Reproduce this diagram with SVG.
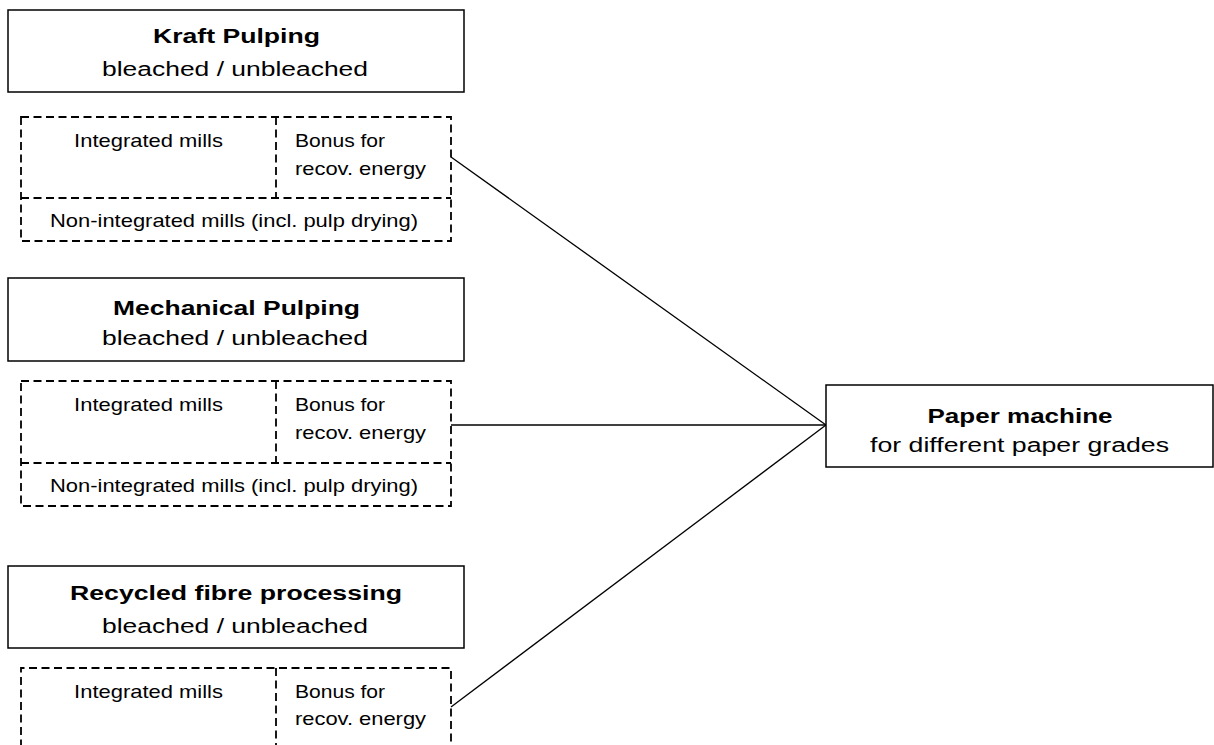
<svg xmlns="http://www.w3.org/2000/svg" width="1214" height="745" viewBox="0 0 1214 745">
<style>
  .solid{fill:#fff;stroke:#000;stroke-width:1.5}
  .dash{fill:none;stroke:#000;stroke-width:1.8;stroke-dasharray:8 4.5}
  .t{font-family:"Liberation Sans",Arial,sans-serif;fill:#000}
  .title{font-size:21px;font-weight:bold;text-anchor:middle}
  .sub{font-size:21px;text-anchor:middle}
  .sm{font-size:18px}
  .c{text-anchor:middle}
  .conn{stroke:#000;stroke-width:1.3;fill:none}
</style>
<rect width="1214" height="745" fill="#fff"/>
<g id="connectors">
  <line class="conn" x1="451" y1="157" x2="826" y2="425"/>
  <line class="conn" x1="451" y1="425" x2="826" y2="425"/>
  <line class="conn" x1="451" y1="707" x2="826" y2="425"/>
</g>
<g id="kraft">
  <rect class="solid" x="8" y="10" width="456" height="82"/>
  <text class="t title" transform="translate(236.5,43) scale(1.24,1)" textLength="134.7" lengthAdjust="spacingAndGlyphs">Kraft Pulping</text>
  <text class="t sub" transform="translate(235,75.5) scale(1.24,1)" textLength="214.5" lengthAdjust="spacingAndGlyphs">bleached / unbleached</text>
</g>
<g id="kraft-mills">
  <rect class="dash" x="21" y="117" width="430" height="124"/>
  <line class="dash" x1="276" y1="117" x2="276" y2="198"/>
  <line class="dash" x1="21" y1="198" x2="451" y2="198"/>
  <text class="t sm c" transform="translate(148.5,147) scale(1.22,1)" textLength="122" lengthAdjust="spacingAndGlyphs">Integrated mills</text>
  <text class="t sm" transform="translate(295,147) scale(1.22,1)" textLength="73.8" lengthAdjust="spacingAndGlyphs">Bonus for</text>
  <text class="t sm" transform="translate(295,174.5) scale(1.22,1)" textLength="107.4" lengthAdjust="spacingAndGlyphs">recov. energy</text>
  <text class="t sm c" transform="translate(234,227) scale(1.22,1)" textLength="301.6" lengthAdjust="spacingAndGlyphs">Non-integrated mills (incl. pulp drying)</text>
</g>
<g id="mechanical">
  <rect class="solid" x="8" y="278" width="456" height="83"/>
  <text class="t title" transform="translate(236.5,315) scale(1.24,1)" textLength="199.2" lengthAdjust="spacingAndGlyphs">Mechanical Pulping</text>
  <text class="t sub" transform="translate(235,344.5) scale(1.24,1)" textLength="214.5" lengthAdjust="spacingAndGlyphs">bleached / unbleached</text>
</g>
<g id="mechanical-mills">
  <rect class="dash" x="21" y="381" width="430" height="125"/>
  <line class="dash" x1="276" y1="381" x2="276" y2="463"/>
  <line class="dash" x1="21" y1="463" x2="451" y2="463"/>
  <text class="t sm c" transform="translate(148.5,411) scale(1.22,1)" textLength="122" lengthAdjust="spacingAndGlyphs">Integrated mills</text>
  <text class="t sm" transform="translate(295,411) scale(1.22,1)" textLength="73.8" lengthAdjust="spacingAndGlyphs">Bonus for</text>
  <text class="t sm" transform="translate(295,438.5) scale(1.22,1)" textLength="107.4" lengthAdjust="spacingAndGlyphs">recov. energy</text>
  <text class="t sm c" transform="translate(234,492) scale(1.22,1)" textLength="301.6" lengthAdjust="spacingAndGlyphs">Non-integrated mills (incl. pulp drying)</text>
</g>
<g id="recycled">
  <rect class="solid" x="8" y="566" width="456" height="82"/>
  <text class="t title" transform="translate(236,600) scale(1.24,1)" textLength="267.7" lengthAdjust="spacingAndGlyphs">Recycled fibre processing</text>
  <text class="t sub" transform="translate(235,632.5) scale(1.24,1)" textLength="214.5" lengthAdjust="spacingAndGlyphs">bleached / unbleached</text>
</g>
<g id="recycled-mills">
  <path class="dash" d="M21,760 V668 H451 V760"/>
  <line class="dash" x1="276" y1="668" x2="276" y2="760"/>
  <text class="t sm c" transform="translate(148.5,698) scale(1.22,1)" textLength="122" lengthAdjust="spacingAndGlyphs">Integrated mills</text>
  <text class="t sm" transform="translate(295,698) scale(1.22,1)" textLength="73.8" lengthAdjust="spacingAndGlyphs">Bonus for</text>
  <text class="t sm" transform="translate(295,724.5) scale(1.22,1)" textLength="107.4" lengthAdjust="spacingAndGlyphs">recov. energy</text>
</g>
<g id="paper-machine">
  <rect class="solid" x="826" y="385" width="387" height="82"/>
  <text class="t title" transform="translate(1020,423) scale(1.24,1)" textLength="149.2" lengthAdjust="spacingAndGlyphs">Paper machine</text>
  <text class="t sub" transform="translate(1019.5,452) scale(1.24,1)" textLength="241.1" lengthAdjust="spacingAndGlyphs">for different paper grades</text>
</g>
</svg>
